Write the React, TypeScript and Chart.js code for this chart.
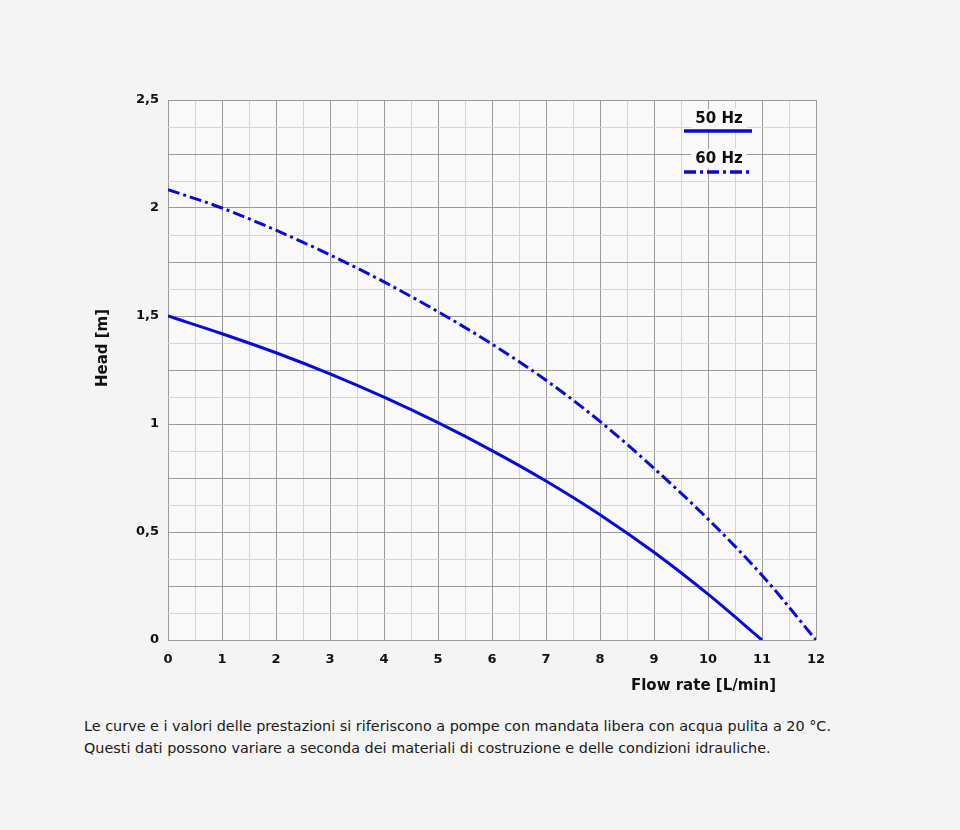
import React, { useEffect, useRef } from "react";
import { Chart, registerables } from "chart.js";

Chart.register(...registerables);

const flow50: number[] = [0, 1, 2, 3, 4, 5, 6, 7, 8, 9, 10, 11];
const head50: number[] = [1.5, 1.418, 1.33, 1.232, 1.124, 1.006, 0.877, 0.736, 0.58, 0.406, 0.212, 0];
const flow60: number[] = [0, 1, 2, 3, 4, 5, 6, 7, 8, 9, 10, 11, 12];
const head60: number[] = [2.085, 2.0, 1.897, 1.783, 1.658, 1.52, 1.37, 1.203, 1.012, 0.795, 0.56, 0.3, 0];
const seriesLabels: string[] = ["50 Hz", "60 Hz"];
const xTitle = "Flow rate [L/min]";
const yTitle = "Head [m]";
const footnote: string[] = [
  "Le curve e i valori delle prestazioni si riferiscono a pompe con mandata libera con acqua pulita a 20 °C.",
  "Questi dati possono variare a seconda dei materiali di costruzione e delle condizioni idrauliche.",
];

const BLUE = "#0a0ad8";
const PAGE_BG = "#f4f4f4";
const PLOT_BG = "#f9f9f9";
const DARK_GRID = "#9a9a9a";
const LIGHT_GRID = "#d4d4d4";
const FONT = "'DejaVu Sans', sans-serif";
const DASH = [12, 4, 3, 4];

const near = (v: number, step: number) => Math.abs(v / step - Math.round(v / step)) < 1e-6;

export default function App() {
  const ref = useRef<HTMLCanvasElement | null>(null);

  useEffect(() => {
    document.body.style.background = PAGE_BG;
    const canvas = ref.current;
    if (!canvas) return;

    const bgPlugin = {
      id: "plotbg",
      beforeDraw(chart: any) {
        const { ctx, chartArea: a } = chart;
        ctx.save();
        ctx.fillStyle = PLOT_BG;
        ctx.fillRect(a.left, a.top, a.right - a.left, a.bottom - a.top);
        ctx.restore();
      },
    };

    const decoPlugin = {
      id: "deco",
      afterDraw(chart: any) {
        const { ctx, chartArea: a } = chart;
        ctx.save();
        ctx.fillStyle = "#111";
        ctx.font = `bold 15px ${FONT}`;
        ctx.textAlign = "right";
        ctx.textBaseline = "middle";
        ctx.fillText(xTitle, a.right - 40, a.bottom + 46);
        ctx.save();
        ctx.translate(a.left - 65, a.top + 248);
        ctx.rotate(-Math.PI / 2);
        ctx.textAlign = "center";
        ctx.fillText(yTitle, 0, 0);
        ctx.restore();

        const cx = a.left + 551;
        const x0 = a.left + 516;
        const x1 = a.left + 584;
        const entries = [
          { label: seriesLabels[0], ty: a.top + 19, ly: a.top + 31, dash: [] as number[] },
          { label: seriesLabels[1], ty: a.top + 59, ly: a.top + 72, dash: DASH },
        ];
        ctx.font = `bold 15px ${FONT}`;
        for (const e of entries) {
          const w = ctx.measureText(e.label).width;
          ctx.fillStyle = PLOT_BG;
          ctx.fillRect(cx - w / 2 - 4, e.ty - 10, w + 8, 20);
          ctx.fillStyle = "#111";
          ctx.textAlign = "center";
          ctx.fillText(e.label, cx, e.ty);
          ctx.strokeStyle = BLUE;
          ctx.lineWidth = 3.5;
          ctx.setLineDash(e.dash);
          ctx.beginPath();
          ctx.moveTo(x0, e.ly);
          ctx.lineTo(x1, e.ly);
          ctx.stroke();
        }
        ctx.restore();
      },
    };

    const chart = new Chart(canvas, {
      type: "line",
      data: {
        datasets: [
          {
            label: seriesLabels[0],
            data: flow50.map((x, i) => ({ x, y: head50[i] })),
            borderColor: BLUE,
            borderWidth: 3,
            pointRadius: 0,
            cubicInterpolationMode: "monotone",
            fill: false,
          },
          {
            label: seriesLabels[1],
            data: flow60.map((x, i) => ({ x, y: head60[i] })),
            borderColor: BLUE,
            borderWidth: 3,
            borderDash: DASH,
            pointRadius: 0,
            cubicInterpolationMode: "monotone",
            fill: false,
          },
        ],
      },
      options: {
        animation: false,
        responsive: false,
        maintainAspectRatio: false,
        layout: { padding: { left: 100, right: 136, top: 92, bottom: 28 } },
        plugins: { legend: { display: false }, tooltip: { enabled: false } },
        scales: {
          x: {
            type: "linear",
            min: 0,
            max: 12,
            afterFit: (s: any) => {
              s.height = 40;
            },
            border: { display: false },
            grid: {
              drawTicks: false,
              color: (c: any) => (near(c.tick.value, 1) ? DARK_GRID : LIGHT_GRID),
              lineWidth: 1,
            },
            ticks: {
              stepSize: 0.5,
              autoSkip: false,
              maxRotation: 0,
              padding: 12,
              color: "#111",
              font: { family: FONT, weight: "bold", size: 13 },
              callback: (v: any) => (near(Number(v), 1) ? String(v) : ""),
            },
          },
          y: {
            type: "linear",
            min: 0,
            max: 2.5,
            afterFit: (s: any) => {
              s.width = 60;
            },
            border: { display: false },
            grid: {
              drawTicks: false,
              color: (c: any) => (near(c.tick.value, 0.25) ? DARK_GRID : LIGHT_GRID),
              lineWidth: 1,
            },
            ticks: {
              stepSize: 0.125,
              autoSkip: false,
              padding: 9,
              color: "#111",
              font: { family: FONT, weight: "bold", size: 13 },
              callback: (v: any) => (near(Number(v), 0.5) ? String(Number(v)).replace(".", ",") : ""),
            },
          },
        },
      },
      plugins: [bgPlugin, decoPlugin],
    } as any);

    return () => chart.destroy();
  }, []);

  return (
    <div style={{ width: 944 }}>
      <canvas ref={ref} width={944} height={700} style={{ display: "block", width: 944, height: 700 }} />
      <div
        style={{
          marginLeft: 76,
          marginTop: 7,
          fontFamily: FONT,
          fontSize: 14.4,
          lineHeight: "22px",
          color: "#1a1a1a",
          whiteSpace: "nowrap",
        }}
      >
        {footnote.map((l, i) => (
          <div key={i}>{l}</div>
        ))}
      </div>
    </div>
  );
}
